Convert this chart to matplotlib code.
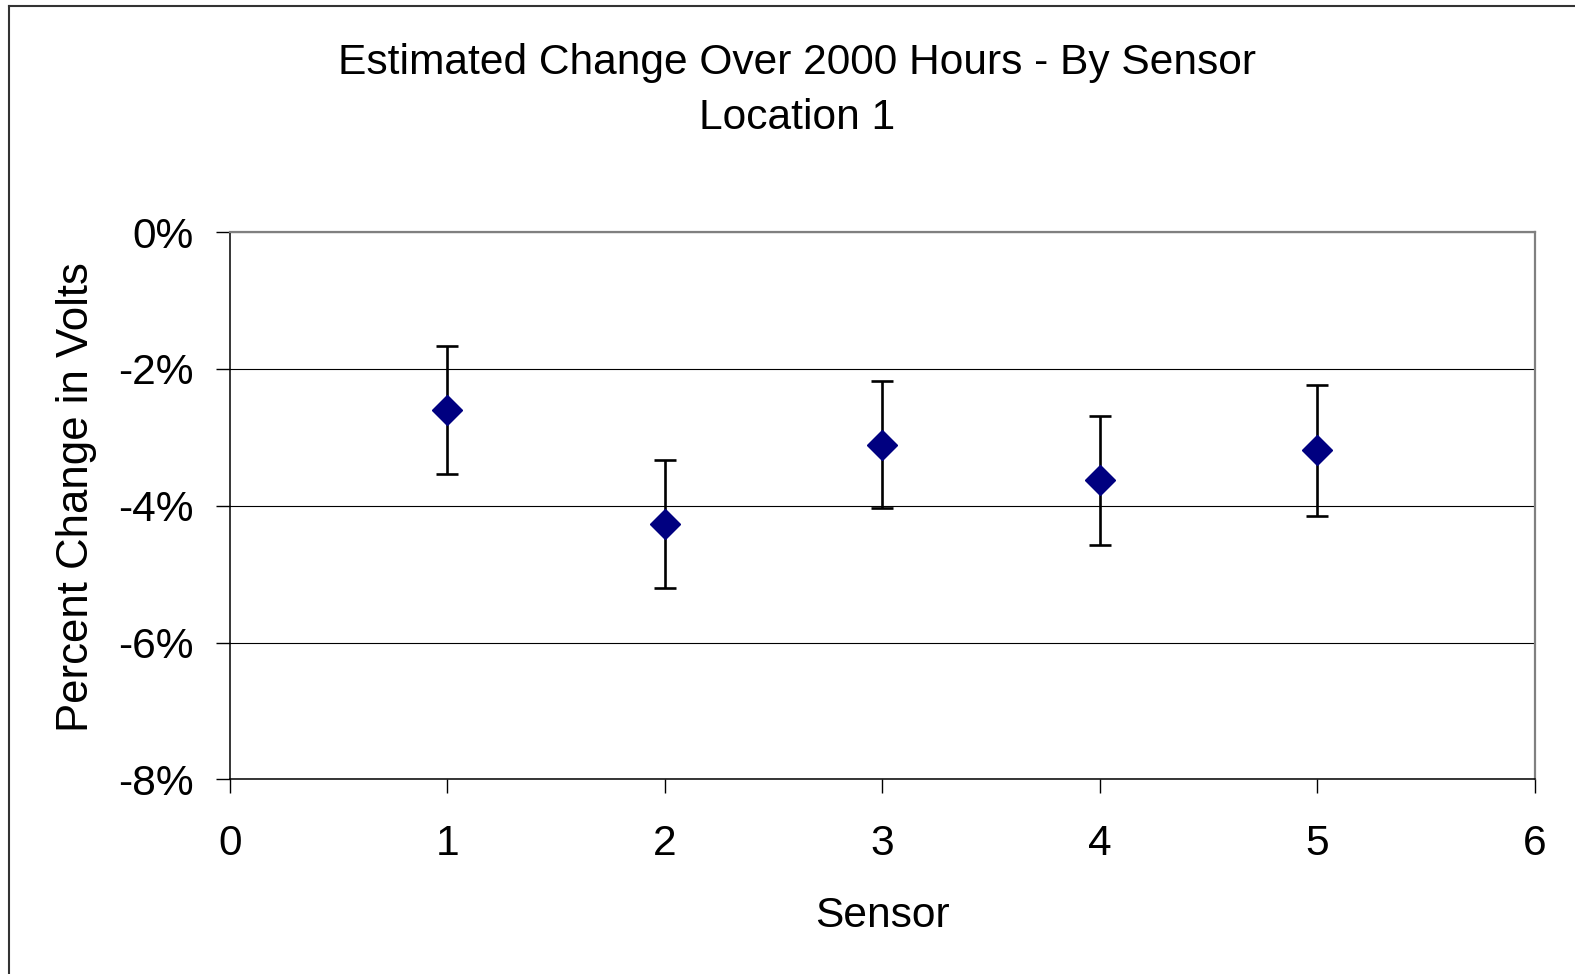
import matplotlib
matplotlib.use("Agg")
import matplotlib.pyplot as plt
from matplotlib.lines import Line2D
from matplotlib.ticker import FuncFormatter

plt.rcParams["font.family"] = ["Liberation Sans", "DejaVu Sans"]

# estimated % change in volts per sensor, with its uncertainty
sensors = [1, 2, 3, 4, 5]
pct_change = [-2.60, -4.26, -3.11, -3.63, -3.19]
pct_err = [0.935, 0.935, 0.93, 0.94, 0.955]

y_ticks = [0, -2, -4, -6, -8]
x_ticks = [0, 1, 2, 3, 4, 5, 6]

FS = 30.6

fig = plt.figure(figsize=(15.75, 9.74), dpi=100)
ax = fig.add_axes([0.146, 0.1997, 0.8286, 0.5621])

ax.errorbar(sensors, pct_change, yerr=pct_err, fmt="none", ecolor="black",
            elinewidth=1.9, capsize=8, capthick=1.9, zorder=3)
ax.plot(sensors, pct_change, linestyle="none", marker="D", markersize=14.8,
        color="#000080", markeredgecolor="#000080", zorder=4)

ax.set_xlim(0, 6)
ax.set_ylim(-8, 0)
ax.set_xticks(x_ticks)
ax.set_yticks(y_ticks)
ax.yaxis.set_major_formatter(FuncFormatter(lambda v, _: f"{int(round(v))}%"))

ax.grid(True, axis="y", color="black", linewidth=0.8)
ax.set_axisbelow(True)

for side in ("top", "right"):
    ax.spines[side].set_color("#808080")
    ax.spines[side].set_linewidth(1.6)
for side in ("left", "bottom"):
    ax.spines[side].set_color("black")
    ax.spines[side].set_linewidth(1.1)

ax.tick_params(axis="y", direction="out", length=10, width=1.0,
               labelsize=FS, pad=16)
ax.tick_params(axis="x", direction="out", length=10, width=1.0,
               labelsize=FS, pad=22)

ax.set_xlabel("Sensor", fontsize=FS, labelpad=23)
ax.set_ylabel("Percent Change in Volts", fontsize=31.5, labelpad=15)
ax.yaxis.label.set_y(0.516)

fig.text(0.506, 0.935, "Estimated Change Over 2000 Hours - By Sensor",
         ha="center", va="center", fontsize=FS)
fig.text(0.506, 0.879, "Location 1", ha="center", va="center", fontsize=FS)

# outer chart frame (left and top edges)
fig.add_artist(Line2D([0.0054, 0.0054], [0.0, 0.994], transform=fig.transFigure,
                      color="#333333", linewidth=1.5))
fig.add_artist(Line2D([0.0054, 1.0], [0.994, 0.994], transform=fig.transFigure,
                      color="#333333", linewidth=1.5))

fig.savefig("out.png", dpi=100)
